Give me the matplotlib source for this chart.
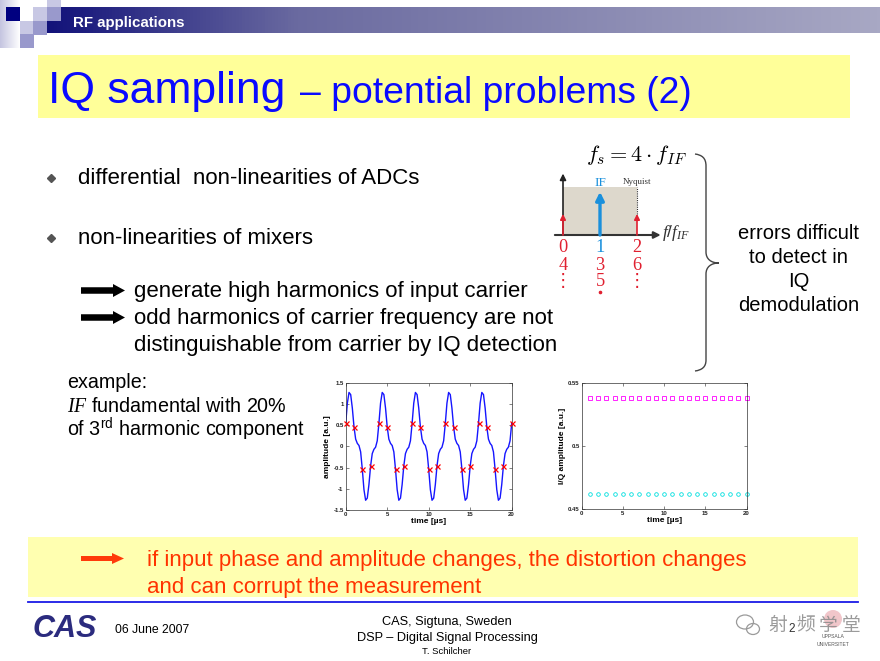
import numpy as np
import matplotlib
matplotlib.use('Agg')
import matplotlib.pyplot as plt
from matplotlib.patches import Rectangle, FancyArrow, PathPatch, Circle, Ellipse
from matplotlib.path import Path
from matplotlib.colors import LinearSegmentedColormap

plt.rcParams['font.family'] = ['Liberation Sans', 'DejaVu Sans']
plt.rcParams['mathtext.fontset'] = 'custom'
plt.rcParams['mathtext.rm'] = 'Liberation Sans'
plt.rcParams['mathtext.it'] = 'Liberation Serif:italic'
plt.rcParams['mathtext.bf'] = 'Liberation Sans:bold'

# ---------------- data ----------------
time_curve = np.linspace(0, 20, 101)
amp_curve = [
    0.54, 1.02, 1.27, 1.22, 0.90, 0.46, 0.17, 0.07, 0.02, -0.13,
    -0.54, -1.02, -1.27, -1.22, -0.90, -0.46, -0.17, -0.07, -0.02, 0.13,
    0.54, 1.02, 1.27, 1.22, 0.90, 0.46, 0.17, 0.07, 0.02, -0.13,
    -0.54, -1.02, -1.27, -1.22, -0.90, -0.46, -0.17, -0.07, -0.02, 0.13,
    0.54, 1.02, 1.27, 1.22, 0.90, 0.46, 0.17, 0.07, 0.02, -0.13,
    -0.54, -1.02, -1.27, -1.22, -0.90, -0.46, -0.17, -0.07, -0.02, 0.13,
    0.54, 1.02, 1.27, 1.22, 0.90, 0.46, 0.17, 0.07, 0.02, -0.13,
    -0.54, -1.02, -1.27, -1.22, -0.90, -0.46, -0.17, -0.07, -0.02, 0.13,
    0.54, 1.02, 1.27, 1.22, 0.90, 0.46, 0.17, 0.07, 0.02, -0.13,
    -0.54, -1.02, -1.27, -1.22, -0.90, -0.46, -0.17, -0.07, -0.02, 0.13,
    0.54,
]
time_samples = [0, 1, 2, 3, 4, 5, 6, 7, 8, 9, 10, 11, 12, 13, 14, 15, 16, 17, 18, 19, 20]
amp_samples = [0.54, 0.46, -0.54, -0.46, 0.54, 0.46, -0.54, -0.46, 0.54, 0.46, -0.54,
               -0.46, 0.54, 0.46, -0.54, -0.46, 0.54, 0.46, -0.54, -0.46, 0.54]
time_iq = [1, 2, 3, 4, 5, 6, 7, 8, 9, 10, 11, 12, 13, 14, 15, 16, 17, 18, 19, 20]
i_amp = [0.538, 0.538, 0.538, 0.538, 0.538, 0.538, 0.538, 0.538, 0.538, 0.538,
         0.538, 0.538, 0.538, 0.538, 0.538, 0.538, 0.538, 0.538, 0.538, 0.538]
q_amp = [0.462, 0.462, 0.462, 0.462, 0.462, 0.462, 0.462, 0.462, 0.462, 0.462,
         0.462, 0.462, 0.462, 0.462, 0.462, 0.462, 0.462, 0.462, 0.462, 0.462]
amp_ticks = [-1.5, -1, -0.5, 0, 0.5, 1, 1.5]
amp_ticklabels = ['-1.5', '-1', '-0.5', '0', '0.5', '1', '1.5']
time_ticks = [0, 5, 10, 15, 20]
time_ticklabels = ['0', '5', '10', '15', '20']
iq_ticks = [0.45, 0.5, 0.55]
iq_ticklabels = ['0.45', '0.5', '0.55']

# spectrum sketch: line positions (f/f_IF), heights, colours, alias labels
spec_pos = [0, 1, 2]
spec_height = [0.44, 0.9, 0.44]
spec_colors = ['#e02030', '#1a90dc', '#e02030']
alias_rows = [['0', '1', '2'], ['4', '3', '6'], ['\u22ee', '5', '\u22ee']]
alias_colors = [['#e02030', '#1a90dc', '#e02030'],
                ['#e02030', '#e02030', '#e02030'],
                ['#e02030', '#e02030', '#e02030']]

header_text = 'RF applications'
title_main = 'IQ sampling'
title_sub = '\u2013 potential problems (2)'
bullets = ['differential  non-linearities of ADCs', 'non-linearities of mixers']
arrow_lines = ['generate high harmonics of input carrier',
               'odd harmonics of carrier frequency are not',
               'distinguishable from carrier by IQ detection']
example_lines = ['example:', r'$IF$ fundamental with 20%', r'of 3$^{\rm rd}$ harmonic component']
brace_lines = ['errors difficult', 'to detect in', 'IQ', 'demodulation']
bottom_lines = ['if input phase and amplitude changes, the distortion changes',
                'and can corrupt the measurement']
watermark_chars = ['射', '频', '学', '堂']

# ---------------- figure ----------------
W, H = 880, 661
fig = plt.figure(figsize=(W / 100, H / 100), dpi=100)
bg = fig.add_axes([0, 0, 1, 1])
bg.set_xlim(0, W)
bg.set_ylim(H, 0)
bg.axis('off')

# header gradient bar
cmap_bar = LinearSegmentedColormap.from_list(
    'bar', [(0.0, '#12127a'), (0.3, '#6a6aa0'), (1.0, '#a8a8c4')])
grad = np.linspace(0, 1, 256).reshape(1, -1)
bg.imshow(grad, extent=[47, W, 33.3, 7.3], cmap=cmap_bar, aspect='auto', zorder=1)
cmap_fade = LinearSegmentedColormap.from_list('fade', ['#c4c4e0', '#ffffff'])
bg.imshow(grad, extent=[0, 20, 48, 0], cmap=cmap_fade, aspect='auto', zorder=1)
sq = [((6, 7), '#000080'), ((33, 7), '#c8c8e4'), ((47, 7), '#9999cc'),
      ((47, -7), '#c8c8e4'), ((20, 21), '#c8c8e4'), ((33, 21), '#9999cc'),
      ((20, 34), '#9999cc')]
for (x0, y0), c in sq:
    bg.add_patch(Rectangle((x0, y0), 13.5, 13.5, color=c, zorder=2, lw=0))
bg.text(73, 26.7, header_text, color='white', fontsize=10.8, fontweight='bold',
        va='baseline', zorder=3)
bg.set_xlim(0, W)
bg.set_ylim(H, 0)

# title box
bg.add_patch(Rectangle((38, 55), 812, 63, color='#ffff99', lw=0, zorder=1))
bg.text(48, 103.3, title_main, color='#0a0aff', fontsize=32, va='baseline', zorder=3)
bg.text(300, 103.3, title_sub, color='#0a0aff', fontsize=26.8, va='baseline', zorder=3)

# bullets
for y, s in zip([184.5, 244.5], bullets):
    bg.plot(51, y - 6.5, marker='D', ms=4, color='#555555', zorder=3)
    bg.text(78, y, s, fontsize=16, va='baseline', zorder=3)

for y in [290.5, 317.5]:
    bg.add_patch(FancyArrow(81, y, 44, 0, width=6.5, head_width=13, head_length=12,
                            length_includes_head=True, color='black', lw=0, zorder=3))
for y, s in zip([297.3, 324.0, 351.0], arrow_lines):
    bg.text(134.5, y, s, fontsize=16, va='baseline', zorder=3)

for y, s in zip([388.3, 411.7, 435.7], example_lines):
    bg.text(67, y, s, fontsize=14.2, va='baseline', zorder=3)

# formula f_s = 4 f_IF
bg.text(586, 160.7, r'$f_s = 4\cdot f_{IF}$', fontsize=16, va='baseline',
        math_fontfamily='cm', zorder=3)

# curly brace
verts = [(695, 154), (702, 155), (706, 158), (706, 166),
         (706, 252),
         (706, 259), (711, 263), (719, 263),
         (711, 263), (706, 267), (706, 274),
         (706, 360),
         (706, 367), (702, 370), (695, 371)]
codes = [Path.MOVETO, Path.CURVE4, Path.CURVE4, Path.CURVE4,
         Path.LINETO,
         Path.CURVE4, Path.CURVE4, Path.CURVE4,
         Path.CURVE4, Path.CURVE4, Path.CURVE4,
         Path.LINETO,
         Path.CURVE4, Path.CURVE4, Path.CURVE4]
bg.add_patch(PathPatch(Path(verts, codes), fill=False, color='#444444', lw=1.0, zorder=3))

for y, s in zip([239.3, 263.3, 287.3, 310.7], brace_lines):
    bg.text(798.5, y, s, fontsize=14.5, ha='center', va='baseline', zorder=3)

# bottom box
bg.add_patch(Rectangle((28, 537), 830, 60, color='#ffffb0', lw=0, zorder=1))
bg.add_patch(FancyArrow(81, 558.5, 43, 0, width=5, head_width=11, head_length=12,
                        length_includes_head=True, color='#ff3a0a', lw=0, zorder=3))
for y, s in zip([566.0, 593.3], bottom_lines):
    bg.text(147, y, s, fontsize=16, color='#ff3300', va='baseline', zorder=3)

# footer
bg.plot([28, 858], [601.5, 601.5], color='#1a1ae6', lw=1.3, zorder=3)
bg.text(33, 636.7, 'CAS', fontsize=22, fontweight='bold', style='italic',
        color='#2b2b7e', va='baseline', zorder=3)
bg.text(115, 632.7, '06 June 2007', fontsize=8.8, va='baseline', zorder=3)
bg.text(447, 625.5, 'CAS, Sigtuna, Sweden', fontsize=9.2,
        ha='center', va='baseline', zorder=3)
bg.text(447, 641.5, 'DSP \u2013 Digital Signal Processing', fontsize=9.2,
        ha='center', va='baseline', zorder=3)
bg.text(447, 653.5, 'T. Schilcher', fontsize=6.8,
        ha='center', va='baseline', zorder=3)

# watermark + university seal
bg.add_patch(Circle((833, 619), 9, color='#e8a0a8', alpha=0.6, lw=0, zorder=2))
bg.text(833, 637, 'UPPSALA', fontsize=3.6, ha='center', va='center', color='#555555', zorder=3)
bg.text(833, 644.5, 'UNIVERSITET', fontsize=3.6, ha='center', va='center', color='#555555', zorder=3)
bg.text(792, 629, '2', fontsize=8.5, ha='center', va='center', color='#333333', zorder=3)
bg.add_patch(Ellipse((745, 622), 17, 14, fill=False, color='#9a9a9a', lw=0.9, zorder=4))
bg.add_patch(Ellipse((753, 629), 13, 11, fill=False, color='#9a9a9a', lw=0.9, zorder=4))
for xc, ch in zip([777.5, 806, 828.5, 851], watermark_chars):
    bg.text(xc, 625, ch, fontsize=13.5, family=['Noto Sans CJK SC', 'DejaVu Sans'],
            ha='center', va='center', color='#8a8a8a', alpha=0.85, zorder=4)

# ---------------- spectrum sketch (inset) ----------------
axd = fig.add_axes([540 / W, 1 - 300 / H, 160 / W, 160 / H])
axd.set_xlim((540 - 563) / 37, (700 - 563) / 37)
axd.set_ylim((235 - 300) / 48, (235 - 140) / 48)
axd.axis('off')
axd.patch.set_alpha(0)
axd.add_patch(Rectangle((spec_pos[0], 0), spec_pos[2] - spec_pos[0], 1.0,
                        color='#ddd8cc', lw=0, zorder=1))
axd.annotate('', xy=(spec_pos[0], 1.28), xytext=(spec_pos[0], 0),
             arrowprops=dict(arrowstyle='-|>', color='#222222', lw=1.2,
                             mutation_scale=9, shrinkA=0, shrinkB=0), zorder=3)
axd.annotate('', xy=(2.64, 0), xytext=(-0.22, 0),
             arrowprops=dict(arrowstyle='-|>', color='#333333', lw=1.5,
                             mutation_scale=10, shrinkA=0, shrinkB=0), zorder=3)
axd.plot([spec_pos[2], spec_pos[2]], [0.44, 1.0], ls=(0, (1, 1)), color='#333333', lw=0.8, zorder=2)
for p, h, c in zip(spec_pos, spec_height, spec_colors):
    lw = 2.4 if c == '#1a90dc' else 1.2
    ms = 12 if c == '#1a90dc' else 8
    axd.annotate('', xy=(p, h), xytext=(p, 0),
                 arrowprops=dict(arrowstyle='-|>', color=c, lw=lw, mutation_scale=ms,
                                 shrinkA=0, shrinkB=0), zorder=4)
axd.text(spec_pos[1], (235 - 185.7) / 48, 'IF', color='#1a90dc', fontsize=9.5,
         family='Liberation Serif', ha='center', va='baseline')
axd.text(spec_pos[2], (235 - 184.5) / 48, 'Nyquist', color='#333333', fontsize=6.4,
         family='Liberation Serif', ha='center', va='baseline')
axd.text((662 - 563) / 37, (235 - 237) / 48, r'$f/f_{IF}$', fontsize=12.5, color='#333333',
         ha='left', va='baseline')
row_base = [(235 - 251.7) / 48, (235 - 270) / 48, (235 - 285.5) / 48]
for r, (labels, cols) in enumerate(zip(alias_rows, alias_colors)):
    for p, lab, c in zip(spec_pos, labels, cols):
        axd.text(p, row_base[r], lab, fontsize=13.2, family=['Liberation Serif', 'DejaVu Sans'],
                 color=c, ha='center', va='baseline')
axd.plot(spec_pos[1], (235 - 291.5) / 48, marker='o', ms=1.6, color='#e02030', lw=0)

# ---------------- waveform plot ----------------
def style_small(ax):
    ax.tick_params(direction='in', length=2, width=0.4, top=True, right=True,
                   labelsize=4.3, pad=1.5, colors='#222222')
    for lab in ax.get_xticklabels() + ax.get_yticklabels():
        lab.set_fontweight('bold')
    for sp in ax.spines.values():
        sp.set_linewidth(0.5)
        sp.set_color('#333333')

ax1 = fig.add_axes([345.7 / W, 1 - 510 / H, 166 / W, 127.3 / H])
ax1.plot(time_curve, amp_curve, color='#1515ff', lw=1.0, zorder=2)
ax1.plot(time_samples, amp_samples, 'x', color='#ff0000', ms=3.6, mew=0.9, zorder=3,
         clip_on=False)
ax1.set_xlim(0, 20)
ax1.set_ylim(-1.5, 1.5)
ax1.set_xticks(time_ticks)
ax1.set_xticklabels(time_ticklabels)
ax1.set_yticks(amp_ticks)
ax1.set_yticklabels(amp_ticklabels)
style_small(ax1)
ax1.set_ylabel('amplitude [a.u.]', fontsize=6, fontweight='bold', labelpad=1.5)
ax1.set_xlabel('time [\u00b5s]', fontsize=6, fontweight='bold', labelpad=0.5)

# ---------------- IQ amplitude plot ----------------
ax2 = fig.add_axes([581.7 / W, 1 - 509.3 / H, 165 / W, 126.6 / H])
ax2.plot(time_iq, i_amp, 's', mfc='none', mec='#ff00ff', ms=2.6, mew=0.6, clip_on=False)
ax2.plot(time_iq, q_amp, 'o', mfc='none', mec='#00dede', ms=2.6, mew=0.6, clip_on=False)
ax2.set_xlim(0, 20)
ax2.set_ylim(0.45, 0.55)
ax2.set_xticks(time_ticks)
ax2.set_xticklabels(time_ticklabels)
ax2.set_yticks(iq_ticks)
ax2.set_yticklabels(iq_ticklabels)
style_small(ax2)
ax2.set_ylabel('I/Q amplitude [a.u.]', fontsize=6, fontweight='bold', labelpad=1.5)
ax2.set_xlabel('time [\u00b5s]', fontsize=6, fontweight='bold', labelpad=0.5)

fig.savefig('out.png', dpi=100)
